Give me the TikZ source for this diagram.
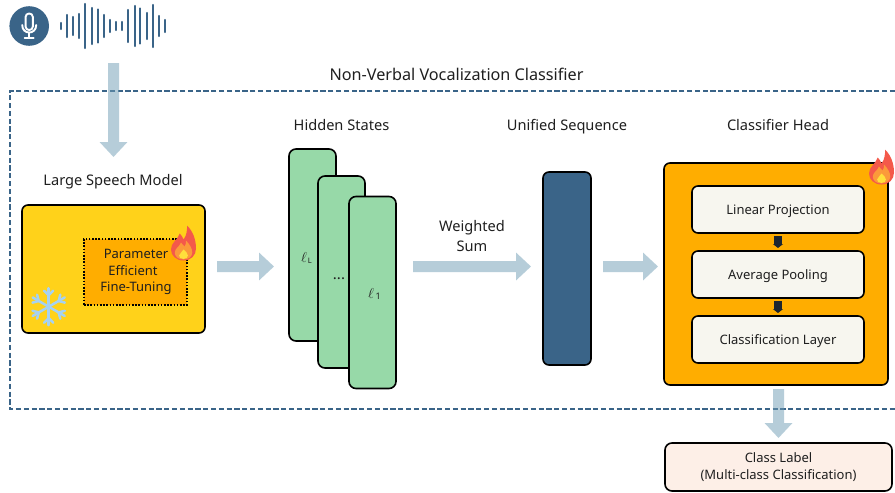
\documentclass[tikz,border=0pt]{standalone}
\usepackage{fontspec}
\setmainfont{Noto Sans}
\usetikzlibrary{arrows.meta,calc}
\definecolor{navy}{HTML}{3A6488}
\definecolor{arrowc}{HTML}{6F9DB5}
\definecolor{lsm}{HTML}{FFD21A}
\definecolor{amber}{HTML}{FFAD00}
\definecolor{mint}{HTML}{97D9A8}
\definecolor{paper}{HTML}{F7F6EF}
\definecolor{blush}{HTML}{FDEFE7}
\definecolor{flamea}{HTML}{F4594A}
\definecolor{flameb}{HTML}{FB9A3A}
\definecolor{flamec}{HTML}{FFE03C}
\definecolor{ice}{HTML}{A6D2F2}
\definecolor{ink}{HTML}{1B2530}
\tikzset{
  x=1pt,y=-1pt,
  every node/.style={inner sep=0pt,outer sep=0pt,text=black!88},
  heading/.style={font=\fontsize{14.6}{18}\selectfont,align=center,text height=13pt,text depth=3pt},
  boxtext/.style={font=\fontsize{13}{17}\selectfont,align=center},
  rbox/.style={draw=black,line width=1.6pt,rounded corners=6pt,minimum width=#1},
  layerbox/.style={rbox=47pt,minimum height=192pt,fill=mint,rounded corners=7pt},
  innerbox/.style={rbox=172pt,minimum height=47pt,fill=paper,boxtext,text height=12pt,text depth=3pt},
  blockarrow/.style={draw=arrowc,line width=11pt,-{Triangle[width=27pt,length=15pt]}},
  smallarrow/.style={draw=ink,line width=8pt,-{Triangle[width=10pt,length=4pt]},shorten <=3pt,shorten >=3pt},
  pics/flame/.style={code={
    \begin{scope}[xscale=1.25]
    \fill[flamea] (0,0) .. controls (-6,0) and (-10,-5) .. (-10,-11) .. controls (-10,-18) and (-5,-20) .. (-3,-27) .. controls (-1.5,-25) and (-0.5,-23) .. (0,-21) .. controls (2.5,-25) and (3,-30) .. (2.8,-35) .. controls (7,-30) and (10,-22) .. (10,-12) .. controls (10,-5) and (6,0) .. (0,0) -- cycle;
    \fill[flameb] (0,-1) .. controls (-4,-1) and (-7,-4) .. (-7,-8) .. controls (-7,-12) and (-3,-14) .. (-2,-18) .. controls (-1,-16) and (0,-15) .. (1,-14) .. controls (2,-16) and (2,-18) .. (2,-20) .. controls (5,-16) and (7,-12) .. (7,-8) .. controls (7,-4) and (4,-1) .. (0,-1) -- cycle;
    \fill[flamec] (0,-1.5) .. controls (-2.5,-1.5) and (-3.5,-3.5) .. (-3.5,-5) .. controls (-3.5,-7) and (-1,-8) .. (0,-11) .. controls (2,-9) and (3.5,-7) .. (3.5,-5) .. controls (3.5,-3.5) and (2.5,-1.5) .. (0,-1.5) -- cycle;
    \end{scope}
  }}
}
\begin{document}
\begin{tikzpicture}
\useasboundingbox (0,0) rectangle (895,493);
\fill[white] (0,0) rectangle (895,493);

% microphone
\node[circle,fill=navy,minimum size=39.6pt] (mic) at (29.2,26) {};
\begin{scope}[draw=white,line cap=round,shift={(mic.center)}]
  \draw[line width=1.9pt,rounded corners=3.4pt] (-3.6,-12.5) rectangle (3.6,4);
  \draw[line width=1.9pt] (-7,-1) .. controls (-7,9) and (7,9) .. (7,-1);
  \draw[line width=1.9pt] (0,6.5) -- (0,12);
  \draw[line width=1.9pt] (-4.5,12) -- (4.5,12);
\end{scope}

% waveform
\foreach \px/\hh in {61.3/4,67.3/12,73.3/10,79.3/13,85.3/23,91.7/19,98/17.5,104/12,110/7,116.3/5,122.3/5,128.3/17,134.7/21,140.3/18.5,146.7/14,153/22,159/11,165/7}
  \draw[navy,line width=2.2pt,line cap=round] (\px,26-\hh+1) -- (\px,26+\hh-1);

% dashed frame, open at the right edge of the picture
\draw[navy,line width=1.5pt,dash pattern=on 5.2pt off 2.6pt] (895,91) -- (10,91) -- (10,409) -- (895,409);
\node[heading,font=\fontsize{16.2}{18}\selectfont] (title) at (456.5,75.5) {Non-Verbal Vocalization Classifier};

% headings
\node[heading] (hlsm) at (113,180.5) {Large Speech Model};
\node[heading] (hhid) at (341.5,125) {Hidden States};
\node[heading] (huni) at (567,125) {Unified Sequence};
\node[heading] (hcls) at (778,125) {Classifier Head};

% large speech model
\node[rbox=183pt,minimum height=128pt,fill=lsm] (model) at (113.5,269) {};
\node[draw=black,line width=1.5pt,dash pattern=on 1.6pt off 1.6pt,fill=amber,minimum width=103pt,minimum height=66pt] (tune) at (135.5,272) {};
\node[boxtext] (t1) at (136,254) {Parameter};
\node[boxtext] (t2) at (133,271) {Efficient};
\node[boxtext] (t3) at (136,288) {Fine-Tuning};
\pic at (183.5,260.5) {flame};

% snowflake
\begin{scope}[shift={(48.7,306.7)},draw=ice,line width=2.5pt,line cap=round]
  \foreach \a in {30,90,150,210,270,330}{
    \draw (0,0) -- (\a:18.5);
    \draw ($(0,0)!0.62!(\a:18.5)$) -- ++(\a+45:6.5);
    \draw ($(0,0)!0.62!(\a:18.5)$) -- ++(\a-45:6.5);
  }
\end{scope}

% hidden states
\node[layerbox] (l1) at (312.5,245) {};
\node[layerbox] (l2) at (341.5,272) {};
\node[layerbox] (l3) at (372.5,292.5) {};
\node (l1t) at (306.5,257.5) {\fontsize{15}{16}\selectfont$\ell$\hspace{1pt}\raisebox{-1pt}{\fontsize{7.5}{8}\selectfont L}};
\node[font=\fontsize{15}{16}\selectfont\bfseries] (l2t) at (339,278.5) {...};
\node (l3t) at (374.5,293.5) {\fontsize{15}{16}\selectfont$\ell$\hspace{1.5pt}\raisebox{-1pt}{\fontsize{9}{9}\selectfont 1}};

% weighted sum
\node[font=\fontsize{14.6}{20}\selectfont,align=center] (ws) at (472,236) {Weighted\\Sum};

% unified sequence
\node[draw=black,line width=1.6pt,rounded corners=6pt,fill=navy,minimum width=48pt,minimum height=193pt] (uni) at (567,268.5) {};

% classifier head
\node[rbox=224pt,minimum height=222pt,fill=amber] (head) at (776,274) {};
\node[innerbox] (lp) at (778,209.5) {Linear Projection};
\node[innerbox] (ap) at (778,274.5) {Average Pooling};
\node[innerbox] (cl) at (778,339.5) {Classification Layer};
\pic at (881.5,184.5) {flame};

% output
\node[rbox=227pt,minimum height=48pt,fill=blush,boxtext,rounded corners=7pt,font=\fontsize{13}{18}\selectfont] (out) at (778.5,467) {\raisebox{-0.5pt}{Class Label}\\\raisebox{0pt}{(Multi-class Classification)}};

\draw[smallarrow] (lp.south) -- (ap.north);
\draw[smallarrow] (ap.south) -- (cl.north);

% block arrows
\coordinate (a0s) at (113.5,63);   \coordinate (a0e) at (113.5,157);
\coordinate (a1s) at (217,266.5);  \coordinate (a1e) at (274,266.5);
\coordinate (a2s) at (413,266.5);  \coordinate (a2e) at (531,266.5);
\coordinate (a3s) at (603,266.5);  \coordinate (a3e) at (658,266.5);
\coordinate (a4s) at (778.5,389);  \coordinate (a4e) at (778.5,438);
\begin{scope}[transparency group,opacity=.5]
  \draw[blockarrow] (a0s) -- (a0e);
  \draw[blockarrow] (a1s) -- (a1e);
  \draw[blockarrow] (a2s) -- (a2e);
  \draw[blockarrow] (a3s) -- (a3e);
  \draw[blockarrow] (a4s) -- (a4e);
\end{scope}
\end{tikzpicture}
\end{document}
